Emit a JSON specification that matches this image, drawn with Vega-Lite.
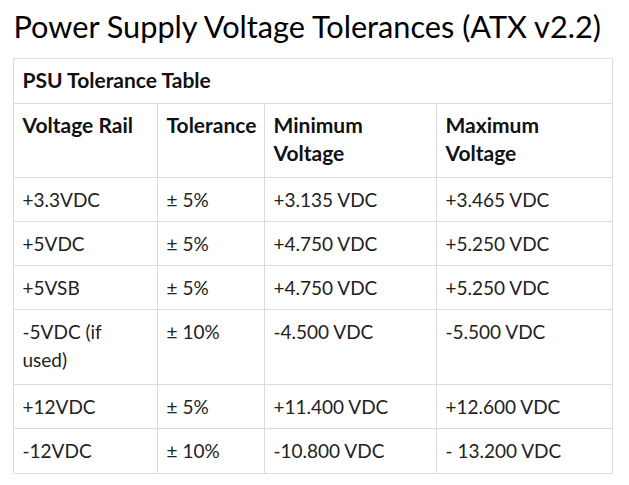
{
  "$schema": "https://vega.github.io/schema/vega-lite/v6.json",
  "width": 629,
  "height": 485,
  "padding": 0,
  "autosize": "none",
  "background": "white",
  "config": {"view": {"stroke": null}},
  "datasets": {
    "cells": [
      {"row": 0, "col": 0, "text": "PSU Tolerance Table", "head": true},
      {"row": 1, "col": 0, "text": "Voltage Rail", "head": true},
      {"row": 1, "col": 1, "text": "Tolerance", "head": true},
      {"row": 1, "col": 2, "text": "Minimum\nVoltage", "head": true},
      {"row": 1, "col": 3, "text": "Maximum\nVoltage", "head": true},
      {"row": 2, "col": 0, "text": "+3.3VDC", "head": false},
      {"row": 2, "col": 1, "text": "± 5%", "head": false},
      {"row": 2, "col": 2, "text": "+3.135 VDC", "head": false},
      {"row": 2, "col": 3, "text": "+3.465 VDC", "head": false},
      {"row": 3, "col": 0, "text": "+5VDC", "head": false},
      {"row": 3, "col": 1, "text": "± 5%", "head": false},
      {"row": 3, "col": 2, "text": "+4.750 VDC", "head": false},
      {"row": 3, "col": 3, "text": "+5.250 VDC", "head": false},
      {"row": 4, "col": 0, "text": "+5VSB", "head": false},
      {"row": 4, "col": 1, "text": "± 5%", "head": false},
      {"row": 4, "col": 2, "text": "+4.750 VDC", "head": false},
      {"row": 4, "col": 3, "text": "+5.250 VDC", "head": false},
      {"row": 5, "col": 0, "text": "-5VDC (if\nused)", "head": false},
      {"row": 5, "col": 1, "text": "± 10%", "head": false},
      {"row": 5, "col": 2, "text": "-4.500 VDC", "head": false},
      {"row": 5, "col": 3, "text": "-5.500 VDC", "head": false},
      {"row": 6, "col": 0, "text": "+12VDC", "head": false},
      {"row": 6, "col": 1, "text": "± 5%", "head": false},
      {"row": 6, "col": 2, "text": "+11.400 VDC", "head": false},
      {"row": 6, "col": 3, "text": "+12.600 VDC", "head": false},
      {"row": 7, "col": 0, "text": "-12VDC", "head": false},
      {"row": 7, "col": 1, "text": "± 10%", "head": false},
      {"row": 7, "col": 2, "text": "-10.800 VDC", "head": false},
      {"row": 7, "col": 3, "text": "- 13.200 VDC", "head": false}
    ],
    "hlines": [{"row": 0}, {"row": 1}, {"row": 2}, {"row": 3}, {"row": 4}, {"row": 5}, {"row": 6}, {"row": 7}, {"row": 8}],
    "vlines": [
      {"col": 0, "r0": 0, "r1": 8},
      {"col": 1, "r0": 1, "r1": 8},
      {"col": 2, "r0": 1, "r1": 8},
      {"col": 3, "r0": 1, "r1": 8},
      {"col": 4, "r0": 0, "r1": 8}
    ],
    "title": [{"row": 0, "col": 0, "text": "Power Supply Voltage Tolerances (ATX v2.2)"}]
  },
  "layer": [
    {
      "data": {"name": "hlines"},
      "mark": {"type": "rule", "color": "#dcdcdc", "strokeWidth": 1},
      "encoding": {
        "y": {"field": "row", "type": "quantitative", "scale": {"domain": [0, 1, 2, 3, 4, 5, 6, 7, 8], "range": [58.5, 103.5, 177.5, 221.5, 265.5, 309.5, 384.5, 428.5, 473.5]}, "axis": null},
        "x": {"datum": 0, "type": "quantitative", "scale": {"domain": [0, 1, 2, 3, 4], "range": [13.5, 157.5, 264.5, 436.5, 612.5]}, "axis": null},
        "x2": {"datum": 4}
      }
    },
    {
      "data": {"name": "vlines"},
      "mark": {"type": "rule", "color": "#dcdcdc", "strokeWidth": 1},
      "encoding": {
        "x": {"field": "col", "type": "quantitative", "axis": null},
        "y": {"field": "r0", "type": "quantitative", "axis": null},
        "y2": {"field": "r1"}
      }
    },
    {
      "data": {"name": "cells"},
      "transform": [{"filter": "!datum.head"}],
      "mark": {"type": "text", "align": "left", "baseline": "alphabetic", "dx": 9, "dy": 29, "font": "Lato", "fontSize": 19, "lineBreak": "\n", "lineHeight": 28, "color": "#222222"},
      "encoding": {
        "x": {"field": "col", "type": "quantitative", "axis": null},
        "y": {"field": "row", "type": "quantitative", "axis": null},
        "text": {"field": "text"}
      }
    },
    {
      "data": {"name": "cells"},
      "transform": [{"filter": "datum.head"}],
      "mark": {"type": "text", "align": "left", "baseline": "alphabetic", "dx": 9, "dy": 29, "font": "Lato", "fontSize": 21, "fontWeight": "bold", "lineBreak": "\n", "lineHeight": 28, "color": "#111111"},
      "encoding": {
        "x": {"field": "col", "type": "quantitative", "axis": null},
        "y": {"field": "row", "type": "quantitative", "axis": null},
        "text": {"field": "text"}
      }
    },
    {
      "data": {"name": "title"},
      "mark": {"type": "text", "align": "left", "baseline": "alphabetic", "dx": 0, "dy": -21, "font": "Lato", "fontSize": 30.7, "color": "#000000"},
      "encoding": {
        "x": {"field": "col", "type": "quantitative", "axis": null},
        "y": {"field": "row", "type": "quantitative", "axis": null},
        "text": {"field": "text"}
      }
    }
  ]
}
